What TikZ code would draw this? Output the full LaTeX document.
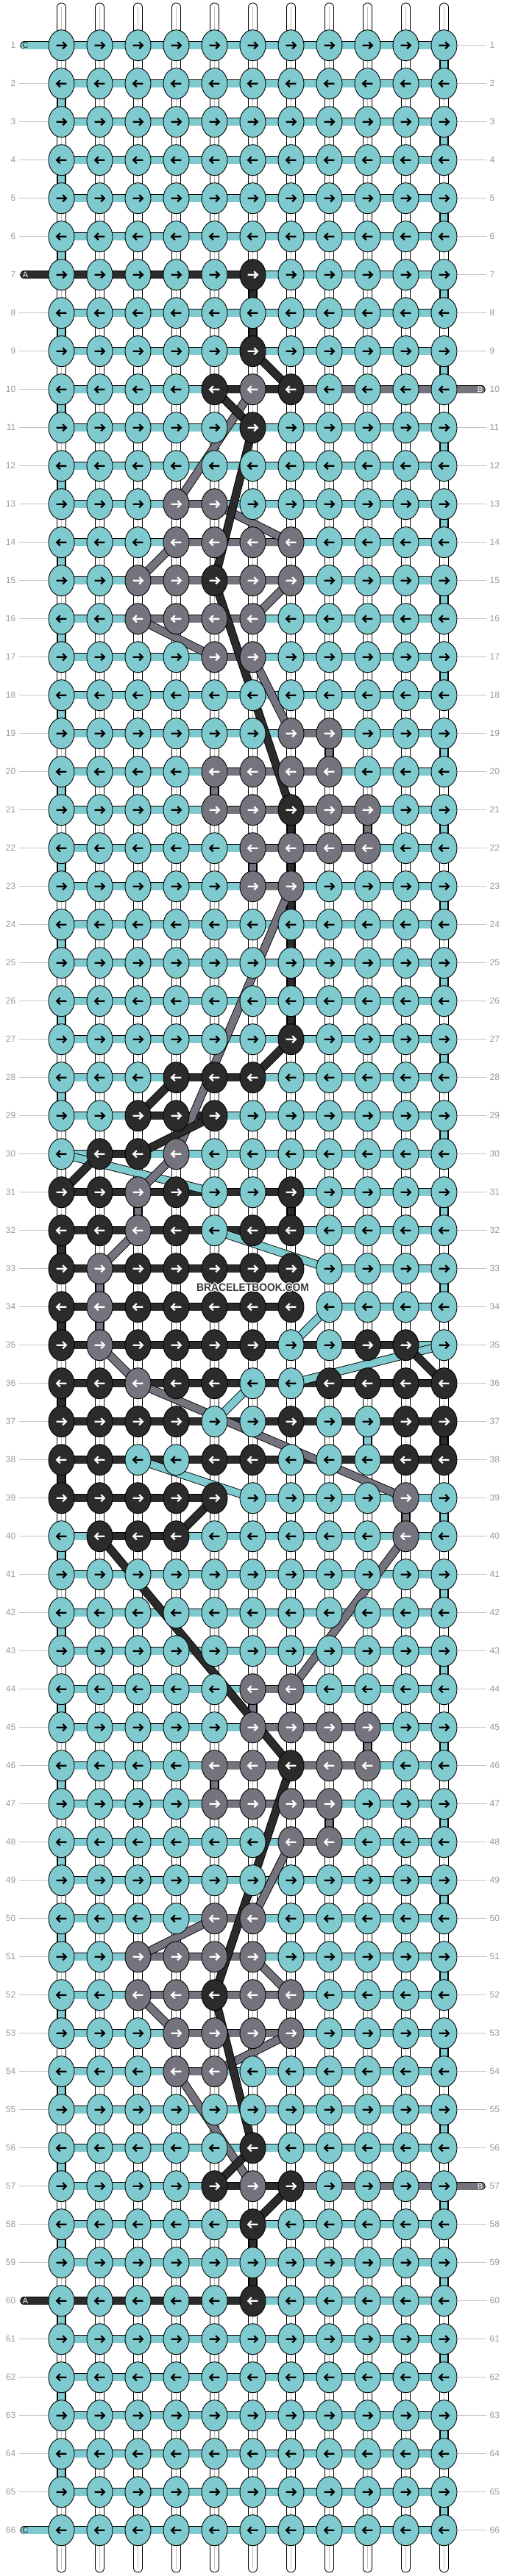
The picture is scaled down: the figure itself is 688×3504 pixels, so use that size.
\documentclass[tikz,border=0pt]{standalone}
\usepackage{fontspec}
\setmainfont{Liberation Sans}
\usetikzlibrary{shapes.geometric}
\definecolor{cT}{HTML}{7FCACE}
\definecolor{cD}{HTML}{2B2B2B}
\definecolor{cG}{HTML}{75747E}
\definecolor{lblgray}{HTML}{9A9A9A}
\definecolor{lnlgray}{HTML}{C4C4C4}
\definecolor{wmgray}{HTML}{3A3A3A}
\pgfdeclarelayer{bg}
\pgfdeclarelayer{thr}
\pgfdeclarelayer{dia}
\pgfsetlayers{bg,thr,dia,main}
\newcommand\setk[3]{\expandafter\xdef\csname kc#1-#2\endcsname{#3}}
\newcommand\hrun[4]{\draw[thr#1] (k-#2-#3.center) -- (k-#2-#4.center);}
\newcommand\vrun[4]{\draw[thr#1] (k-#3-#2.center) -- (k-#4-#2.center);}
\newcommand\drun[5]{\draw[thr#1] (k-#2-#3.center) -- (k-#4-#5.center);}
\def\tT{T}
\begin{document}
\begin{tikzpicture}[x=1pt,y=-1pt,
  knot/.style={ellipse, minimum width=35pt, minimum height=42pt, inner sep=0pt, outer sep=0pt, draw=black, line width=0.9pt},
  arr/.style={line width=2.2pt, line join=miter},
  thrT/.style={draw=black, line width=0.9pt, double=cT, double distance=9.6pt},
  thrG/.style={draw=black, line width=0.9pt, double=cG, double distance=9.6pt},
  thrD/.style={draw=black, line width=0.9pt, double=cD, double distance=9.6pt},
  lbl/.style={text=lblgray, font=\fontsize{12}{14}\selectfont, inner sep=0pt},
  lblline/.style={draw=lnlgray, line width=0.9pt},
  stubtxt/.style={font=\fontsize{11}{11}\selectfont, inner sep=0pt},
  pen/.style={fill=white, draw=black, line width=0.9pt, rounded corners=5.9pt},
  penline/.style={draw=black!25, line width=0.7pt}
]
\useasboundingbox (0,0) rectangle (688,3504);
\foreach \ri/\ci/\kv in {7/6/D, 9/6/D, 10/5/D, 10/6/G, 10/7/D, 11/6/D,
13/4/G, 13/5/G,
14/4/G, 14/5/G, 14/6/G, 14/7/G,
15/3/G, 15/4/G, 15/5/D, 15/6/G, 15/7/G,
16/3/G, 16/4/G, 16/5/G, 16/6/G,
17/5/G, 17/6/G,
19/7/G, 19/8/G,
20/5/G, 20/6/G, 20/7/G, 20/8/G,
21/5/G, 21/6/G, 21/7/D, 21/8/G, 21/9/G,
22/6/G, 22/7/G, 22/8/G, 22/9/G,
23/6/G, 23/7/G,
27/7/D,
28/4/D, 28/5/D, 28/6/D,
29/3/D, 29/4/D, 29/5/D,
30/2/D, 30/3/D, 30/4/G,
31/1/D, 31/2/D, 31/3/G, 31/4/D, 31/7/D,
32/1/D, 32/2/D, 32/3/G, 32/4/D, 32/6/D, 32/7/D,
33/1/D, 33/2/G, 33/3/D, 33/4/D, 33/5/D, 33/6/D, 33/7/D,
34/1/D, 34/2/G, 34/3/D, 34/4/D, 34/5/D, 34/6/D, 34/7/D,
35/1/D, 35/2/G, 35/3/D, 35/4/D, 35/5/D, 35/6/D, 35/9/D, 35/10/D,
36/1/D, 36/2/D, 36/3/G, 36/4/D, 36/5/D, 36/8/D, 36/9/D, 36/10/D, 36/11/D,
37/1/D, 37/2/D, 37/3/D, 37/4/D, 37/7/D, 37/10/D, 37/11/D,
38/1/D, 38/2/D, 38/5/D, 38/6/D, 38/10/D, 38/11/D,
39/1/D, 39/2/D, 39/3/D, 39/4/D, 39/5/D, 39/10/G,
40/2/D, 40/3/D, 40/4/D, 40/10/G,
44/6/G, 44/7/G,
45/6/G, 45/7/G, 45/8/G, 45/9/G,
46/5/G, 46/6/G, 46/7/D, 46/8/G, 46/9/G,
47/5/G, 47/6/G, 47/7/G, 47/8/G,
48/7/G, 48/8/G,
50/5/G, 50/6/G,
51/3/G, 51/4/G, 51/5/G, 51/6/G,
52/3/G, 52/4/G, 52/5/D, 52/6/G, 52/7/G,
53/4/G, 53/5/G, 53/6/G, 53/7/G,
54/4/G, 54/5/G,
56/6/D, 57/5/D, 57/6/G, 57/7/D, 58/6/D, 60/6/D}{\setk{\ri}{\ci}{\kv}}
% background and warps
\begin{pgfonlayer}{bg}
\fill[white] (0,0) rectangle (688,3504);
\foreach \ci in {1,...,11}{
  \pgfmathsetmacro\xx{83.5+52*(\ci-1)}
  \draw[pen] (\xx-6,4) rectangle (\xx+6,3499);
  \draw[penline] (\xx,9) -- (\xx,3494);
}
\end{pgfonlayer}
% knots
\foreach \ri in {1,...,66}{
  \pgfmathsetmacro\yy{61.7+52*(\ri-1)}
  \ifodd\ri \def\dir{1}\else\def\dir{-1}\fi
  \foreach \ci in {1,...,11}{
    \pgfmathsetmacro\xx{83.5+52*(\ci-1)}
    \ifcsname kc\ri-\ci\endcsname \edef\kk{\csname kc\ri-\ci\endcsname}\else\def\kk{T}\fi
    \ifx\kk\tT \def\arrc{black}\else\def\arrc{white}\fi
    \node[knot, fill=c\kk] (k-\ri-\ci) at (\xx,\yy) {};
    \draw[arr, draw=\arrc, shift={(\xx,\yy)}, xscale=\dir] (-6.8,0) -- (5.6,0) (1.7,-4.6) -- (6.4,0) -- (1.7,4.6);
  }
  \node[lbl, anchor=east] (ln\ri) at (21.5,\yy) {\ri};
  \node[lbl, anchor=west] (rn\ri) at (665.5,\yy) {\ri};
  \begin{pgfonlayer}{bg}
  \draw[lblline] ([xshift=4.5pt]ln\ri.east) -- (k-\ri-1.west);
  \draw[lblline] (k-\ri-11.east) -- ([xshift=-5pt]rn\ri.west);
  \end{pgfonlayer}
}
% stub end points
\coordinate (sC1) at (33,61.7);
\coordinate (sA7) at (33,373.7);
\coordinate (sB10) at (654,529.7);
\coordinate (sB57) at (654,2973.7);
\coordinate (sA60) at (33,3129.7);
\coordinate (sC66) at (33,3441.7);
% horizontal / vertical thread runs
\begin{pgfonlayer}{thr}
% teal
\foreach \ri in {1,...,30}{\hrun{T}{\ri}{1}{11}}
\foreach \ri in {40,...,66}{\hrun{T}{\ri}{1}{11}}
\foreach \ri in {1,3,...,29}{\pgfmathtruncatemacro\rn{\ri+1}\vrun{T}{11}{\ri}{\rn}}
\foreach \ri in {41,43,...,65}{\pgfmathtruncatemacro\rn{\ri+1}\vrun{T}{11}{\ri}{\rn}}
\foreach \ri in {2,4,...,28}{\pgfmathtruncatemacro\rn{\ri+1}\vrun{T}{1}{\ri}{\rn}}
\foreach \ri in {40,42,...,64}{\pgfmathtruncatemacro\rn{\ri+1}\vrun{T}{1}{\ri}{\rn}}
\hrun{T}{31}{5}{11} \vrun{T}{11}{31}{32} \hrun{T}{32}{5}{11}
\hrun{T}{33}{8}{11} \vrun{T}{11}{33}{34} \hrun{T}{34}{8}{11}
\hrun{T}{35}{7}{11} \hrun{T}{36}{6}{7} \hrun{T}{37}{5}{9} \vrun{T}{9}{37}{38} \hrun{T}{38}{3}{9}
\hrun{T}{39}{6}{11} \vrun{T}{11}{39}{40}
\draw[thrT, line cap=round] (sC1) -- (k-1-1.center);
\draw[thrT, line cap=round] (k-66-1.center) -- (sC66);
% gray
\draw[thrG, line cap=round] (sB10) -- (k-10-6.center);
\hrun{G}{13}{4}{5} \hrun{G}{14}{4}{7} \hrun{G}{15}{3}{7} \hrun{G}{16}{3}{6} \hrun{G}{17}{5}{6}
\hrun{G}{19}{7}{8} \vrun{G}{8}{19}{20} \hrun{G}{20}{5}{8} \vrun{G}{5}{20}{21} \hrun{G}{21}{5}{9}
\vrun{G}{9}{21}{22} \hrun{G}{22}{6}{9} \vrun{G}{6}{22}{23} \hrun{G}{23}{6}{7}
\vrun{G}{3}{31}{32} \vrun{G}{2}{33}{35} \vrun{G}{10}{39}{40}
\hrun{G}{44}{6}{7} \vrun{G}{6}{44}{45} \hrun{G}{45}{6}{9} \vrun{G}{9}{45}{46} \hrun{G}{46}{5}{9}
\vrun{G}{5}{46}{47} \hrun{G}{47}{5}{8} \vrun{G}{8}{47}{48} \hrun{G}{48}{7}{8}
\hrun{G}{50}{5}{6} \hrun{G}{51}{3}{6} \hrun{G}{52}{3}{7} \hrun{G}{53}{4}{7} \hrun{G}{54}{4}{5}
\draw[thrG, line cap=round] (k-57-6.center) -- (sB57);
% dark
\draw[thrD, line cap=round] (sA7) -- (k-7-6.center);
\vrun{D}{6}{7}{9} \hrun{D}{10}{5}{7} \vrun{D}{7}{21}{27}
\hrun{D}{28}{4}{6} \hrun{D}{29}{3}{5} \hrun{D}{30}{2}{3}
\hrun{D}{31}{1}{7} \vrun{D}{7}{31}{32} \hrun{D}{32}{1}{7} \vrun{D}{1}{32}{33}
\hrun{D}{33}{1}{7} \vrun{D}{7}{33}{34} \hrun{D}{34}{1}{7} \vrun{D}{1}{34}{35} \hrun{D}{35}{1}{10}
\hrun{D}{36}{1}{11} \vrun{D}{1}{36}{37} \hrun{D}{37}{1}{11} \vrun{D}{11}{37}{38}
\hrun{D}{38}{1}{11} \vrun{D}{1}{38}{39} \hrun{D}{39}{1}{5} \hrun{D}{40}{2}{4}
\hrun{D}{57}{5}{7} \vrun{D}{6}{58}{60}
\draw[thrD, line cap=round] (k-60-6.center) -- (sA60);
\end{pgfonlayer}
% diagonal jumps
\begin{pgfonlayer}{dia}
\drun{T}{30}{1}{31}{5} \drun{T}{32}{5}{33}{8} \drun{T}{34}{8}{35}{7}
\drun{T}{35}{11}{36}{7} \drun{T}{36}{6}{37}{5} \drun{T}{38}{3}{39}{6}
\drun{G}{10}{6}{13}{4} \drun{G}{13}{5}{14}{7} \drun{G}{14}{4}{15}{3} \drun{G}{15}{7}{16}{6}
\drun{G}{16}{3}{17}{5} \drun{G}{17}{6}{19}{7} \drun{G}{23}{7}{30}{4} \drun{G}{30}{4}{31}{3}
\drun{G}{32}{3}{33}{2} \drun{G}{35}{2}{36}{3} \drun{G}{36}{3}{39}{10} \drun{G}{40}{10}{44}{7}
\drun{G}{48}{7}{50}{6} \drun{G}{50}{5}{51}{3} \drun{G}{51}{6}{52}{7} \drun{G}{52}{3}{53}{4}
\drun{G}{53}{7}{54}{5} \drun{G}{54}{4}{57}{6}
\drun{D}{9}{6}{10}{7} \drun{D}{10}{5}{11}{6} \drun{D}{11}{6}{15}{5} \drun{D}{15}{5}{21}{7}
\drun{D}{27}{7}{28}{6} \drun{D}{28}{4}{29}{3} \drun{D}{29}{5}{30}{3} \drun{D}{30}{2}{31}{1}
\drun{D}{35}{10}{36}{11} \drun{D}{39}{5}{40}{4} \drun{D}{40}{2}{46}{7} \drun{D}{46}{7}{52}{5}
\drun{D}{52}{5}{56}{6} \drun{D}{56}{6}{57}{5} \drun{D}{57}{7}{58}{6}
\end{pgfonlayer}
% stub letters
\node[stubtxt, text=black!85] (tC1) at (34.5,61.7) {C};
\node[stubtxt, text=white] (tA7) at (34.5,373.7) {A};
\node[stubtxt, text=white] (tB10) at (652.5,529.7) {B};
\node[stubtxt, text=white] (tB57) at (652.5,2973.7) {B};
\node[stubtxt, text=white] (tA60) at (34.5,3129.7) {A};
\node[stubtxt, text=black!85] (tC66) at (34.5,3441.7) {C};
% watermark
\foreach \dx/\dy in {-1/0,1/0,0/-1,0/1,-1/-1,1/1,-1/1,1/-1}{
  \node[text=white, inner sep=0pt] at (343.5+\dx,1751.7+\dy) {\scalebox{0.92}[1]{\fontsize{15}{15}\selectfont\bfseries BRACELETBOOK.COM}};
}
\node[text=wmgray, inner sep=0pt] (wm) at (343.5,1751.7) {\scalebox{0.92}[1]{\fontsize{15}{15}\selectfont\bfseries BRACELETBOOK.COM}};
\end{tikzpicture}
\end{document}
